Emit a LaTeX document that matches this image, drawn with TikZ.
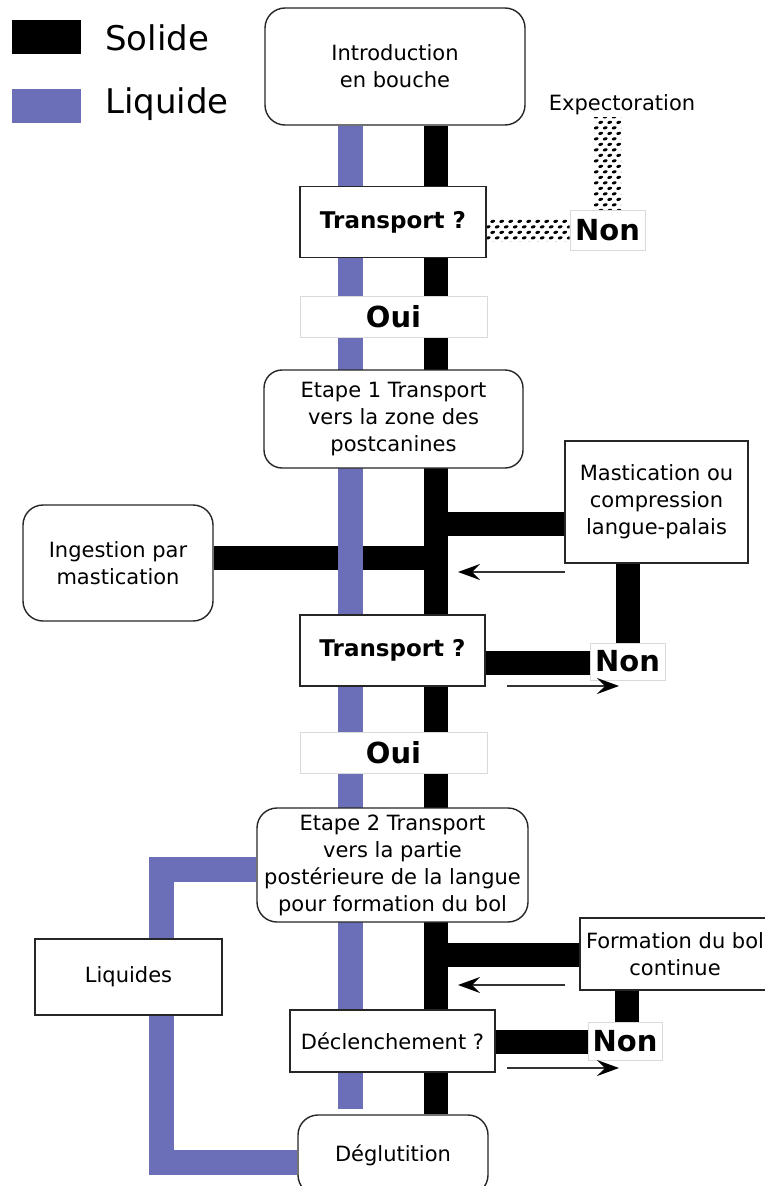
\documentclass[tikz,border=0pt]{standalone}
\usepackage{fontspec}
\setmainfont{DejaVu Sans}
\usetikzlibrary{arrows.meta,patterns,calc}
\definecolor{liqc}{RGB}{107,111,183}
\definecolor{lgray}{RGB}{218,218,218}
\pgfdeclarelayer{bg}
\pgfsetlayers{bg,main}
\pgfdeclarepatternformonly{blobs}{\pgfpoint{-3pt}{-3pt}}{\pgfpoint{12pt}{14pt}}{\pgfpoint{9pt}{11pt}}{%
  \pgfpathellipse{\pgfpoint{2.2pt}{2.2pt}}{\pgfpoint{2.4pt}{0.6pt}}{\pgfpoint{-0.3pt}{1.5pt}}%
  \pgfpathellipse{\pgfpoint{6.7pt}{7.7pt}}{\pgfpoint{2.4pt}{0.6pt}}{\pgfpoint{-0.3pt}{1.5pt}}%
  \pgfusepath{fill}}
\tikzset{
  box/.style={draw=black!85, line width=1.4pt, fill=white, inner sep=0pt, align=center,
    font=\fontsize{21}{27}\selectfont},
  rbox/.style={box, rounded corners=20pt},
  qbox/.style={box, font=\bfseries\fontsize{23}{27}\selectfont},
  lab/.style={draw=lgray, line width=0.8pt, fill=white, inner sep=0pt,
    font=\bfseries\fontsize{29}{32}\selectfont},
  sol/.style={line width=24pt, draw=black, line join=miter},
  liqbar/.style={line width=25pt, draw=liqc, line join=miter},
  thinarrow/.style={line width=1.5pt, draw=black!80, -{Stealth[length=22pt,width=16pt,inset=8pt,color=black]}},
  legtext/.style={anchor=west, inner sep=0pt, font=\fontsize{34}{40}\selectfont},
}
\begin{document}
\begin{tikzpicture}[x=1pt,y=-1pt]
\useasboundingbox (0,0) rectangle (765,1186);
% legend
\node[fill=black, minimum width=69pt, minimum height=34pt, inner sep=0pt] (legS) at (46.5,37) {};
\node[fill=liqc, minimum width=69pt, minimum height=34pt, inner sep=0pt] (legL) at (46.5,106) {};
\node[legtext] (legSt) at (105,38) {Solide};
\node[legtext] (legLt) at (105,104) {Liquide};
% pillar coordinates
\coordinate (pL) at (350.5,0);
\coordinate (pB) at (436,0);
\coordinate (lx) at (161,0);
% nodes
\path
  (395,66.5) node[rbox, minimum width=260pt, minimum height=117pt] (intro) {Introduction\\en bouche}
  (622,105) node[inner sep=0pt, font=\fontsize{21}{27}\selectfont] (exp) {Expectoration}
  (393,222) node[qbox, minimum width=186pt, minimum height=71pt] (tr1) {Transport ?}
  (607.5,230) node[lab, minimum width=75pt, minimum height=40pt] (non1) {Non}
  (393.5,317) node[lab, minimum width=187pt, minimum height=41pt] (oui1) {Oui}
  (393.5,419) node[rbox, rounded corners=18pt, minimum width=259pt, minimum height=98pt] (et1) {Etape 1 Transport\\vers la zone des\\postcanines}
  (656.5,502) node[box, minimum width=183pt, minimum height=122pt] (mast) {Mastication ou\\compression\\langue-palais}
  (118,563) node[rbox, minimum width=190pt, minimum height=116pt] (ing) {Ingestion par\\mastication}
  (392.5,650.5) node[qbox, minimum width=185pt, minimum height=71pt] (tr2) {Transport ?}
  (627.5,661.5) node[lab, minimum width=75pt, minimum height=37pt] (non2) {Non}
  (393.5,752.5) node[lab, minimum width=187pt, minimum height=41pt] (oui2) {Oui}
  (392.5,865) node[rbox, minimum width=271pt, minimum height=114pt] (et2) {Etape 2 Transport\\vers la partie\\postérieure de la langue\\pour formation du bol}
  (128.5,977) node[box, minimum width=187pt, minimum height=76pt] (liq) {Liquides}
  (675,954) node[box, minimum width=190pt, minimum height=72pt] (form) {Formation du bol\\continue}
  (392.5,1041) node[box, minimum width=205pt, minimum height=62pt] (decl) {Déclenchement ?}
  (625,1041) node[lab, minimum width=74pt, minimum height=38pt] (non3) {Non}
  (393,1155) node[rbox, minimum width=190pt, minimum height=80pt] (degl) {Déglutition};
% connector coordinates
\coordinate (m1) at ([yshift=-21.5pt]mast.west);
\coordinate (i1) at ([yshift=5pt]ing.east);
\coordinate (f1) at ([yshift=-1pt]form.west);
\coordinate (t2) at ([yshift=-12pt]tr2.east);
\coordinate (d1) at ([yshift=-1pt]decl.east);
\coordinate (e2) at ([yshift=-4pt]et2.west);
\coordinate (g1) at ([yshift=-7.5pt]degl.west);
\coordinate (mv) at (628,0);
\coordinate (fv) at (626.5,0);
\begin{pgfonlayer}{bg}
\draw[sol] (intro.south -| pB) -- (degl.north -| pB);
\draw[sol] (m1) -- (m1 -| pB);
\draw[sol] (i1) -- (i1 -| pB);
\draw[sol] (mast.south -| mv) -- (non2.north -| mv);
\draw[sol] (t2) -- (t2 -| non2.west);
\draw[sol] (f1) -- (f1 -| pB);
\draw[sol] (form.south -| fv) -- (non3.north -| fv);
\draw[sol] (d1) -- (d1 -| non3.west);
\draw[liqbar, shorten >=5pt] (intro.south -| pL) -- (degl.north -| pL);
\draw[liqbar] (e2) -- (e2 -| lx) -- (liq.north -| lx);
\draw[liqbar] (liq.south -| lx) -- (lx |- g1) -- (g1);
\fill[pattern=blobs] ([yshift=11.5pt]tr1.east |- non1.west) rectangle ([yshift=-11.5pt]non1.west);
\fill[pattern=blobs] ([xshift=-13.5pt]non1.north) rectangle ([xshift=13.5pt,yshift=-2pt]non1.north |- exp.south);
\end{pgfonlayer}
% thin arrows
\coordinate (a1s) at (565,572); \coordinate (a1e) at (458,572);
\coordinate (a2s) at (507,686); \coordinate (a2e) at (619,686);
\coordinate (a3s) at (565,985); \coordinate (a3e) at (458,985);
\coordinate (a4s) at (507,1068); \coordinate (a4e) at (619,1068);
\draw[thinarrow] (a1s) -- (a1e);
\draw[thinarrow] (a2s) -- (a2e);
\draw[thinarrow] (a3s) -- (a3e);
\draw[thinarrow] (a4s) -- (a4e);
\end{tikzpicture}
\end{document}
